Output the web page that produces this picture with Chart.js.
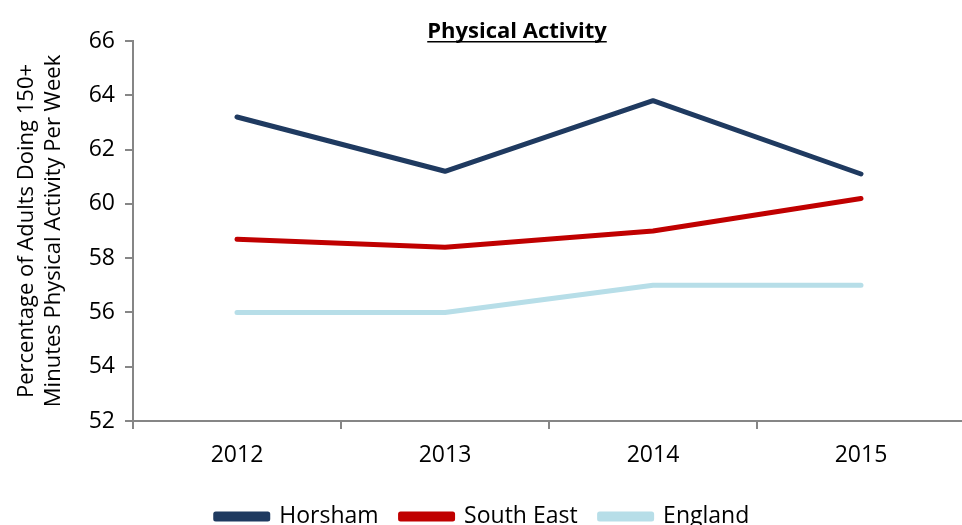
<!DOCTYPE html>
<html>
<head>
<meta charset="utf-8">
<script src="https://cdn.jsdelivr.net/npm/chart.js@4/dist/chart.umd.min.js"></script>
<style>
  html, body { margin: 0; padding: 0; background: #fff; overflow: hidden; }
  #wrap { width: 966px; height: 525px; }
</style>
</head>
<body>
<div id="wrap"><canvas id="lineChart"></canvas></div>
<script>
const years = ["2012", "2013", "2014", "2015"];
const horsham = [63.2, 61.2, 63.8, 61.1];
const southEast = [58.7, 58.4, 59.0, 60.2];
const england = [56, 56, 57, 57];
const yTitle = ["Percentage of Adults Doing 150+", "Minutes Physical Activity Per Week"];
const chartTitle = "Physical Activity";

Chart.defaults.font.family = "'Open Sans', sans-serif";
Chart.defaults.color = "#000";

// title drawn by hand so it can be underlined
const underlineTitle = {
  id: "underlineTitle",
  afterDraw(chart) {
    const ctx = chart.ctx;
    ctx.save();
    ctx.font = "bold 22px 'Open Sans', sans-serif";
    ctx.fillStyle = "#000";
    ctx.textAlign = "center";
    ctx.textBaseline = "alphabetic";
    const x = 517, y = 38;
    ctx.fillText(chartTitle, x, y);
    const w = ctx.measureText(chartTitle).width;
    ctx.fillRect(x - w / 2, y + 3, w, 1.5);
    ctx.restore();
  }
};

const ctx = document.getElementById("lineChart").getContext("2d");
const line = (label, data, color) => ({
  label, data,
  borderColor: color,
  backgroundColor: color,
  borderWidth: 5,
  borderCapStyle: "round",
  borderJoinStyle: "round",
  pointRadius: 0,
  tension: 0,
  fill: false,
});

new Chart(ctx, {
  type: "line",
  data: {
    labels: years,
    datasets: [
      line("Horsham", horsham, "#1F3A60"),
      line("South East", southEast, "#C00000"),
      line("England", england, "#B7DEE8"),
    ],
  },
  options: {
    responsive: true,
    maintainAspectRatio: false,
    animation: false,
    layout: { padding: { top: 41, left: 0, right: 1, bottom: -13 } },
    plugins: {
      legend: {
        position: "bottom",
        labels: {
          boxWidth: 52,
          boxHeight: 5,
          padding: 22,
          font: { size: 23 },
          color: "#000",
        },
      },
      tooltip: { enabled: false },
    },
    scales: {
      x: {
        offset: true,
        grid: {
          offset: true,
          drawOnChartArea: false,
          color: "#868686",
          lineWidth: 2,
          tickLength: 8,
        },
        border: { color: "#868686", width: 2 },
        ticks: { font: { size: 23 }, padding: 13, color: "#000" },
        afterFit(scale) { scale.height = 62; },
      },
      y: {
        min: 52,
        max: 66,
        ticks: { stepSize: 2, font: { size: 23 }, padding: 10, color: "#000" },
        grid: {
          drawOnChartArea: false,
          color: "#868686",
          lineWidth: 2,
          tickLength: 8,
        },
        border: { color: "#868686", width: 2 },
        title: {
          display: true,
          text: yTitle,
          font: { size: 22 },
          lineHeight: 1.4545,
          padding: { top: 14, bottom: 0 },
          color: "#000",
        },
        afterFit(scale) { scale.width = 133; },
      },
    },
  },
  plugins: [underlineTitle],
});
</script>
</body>
</html>
